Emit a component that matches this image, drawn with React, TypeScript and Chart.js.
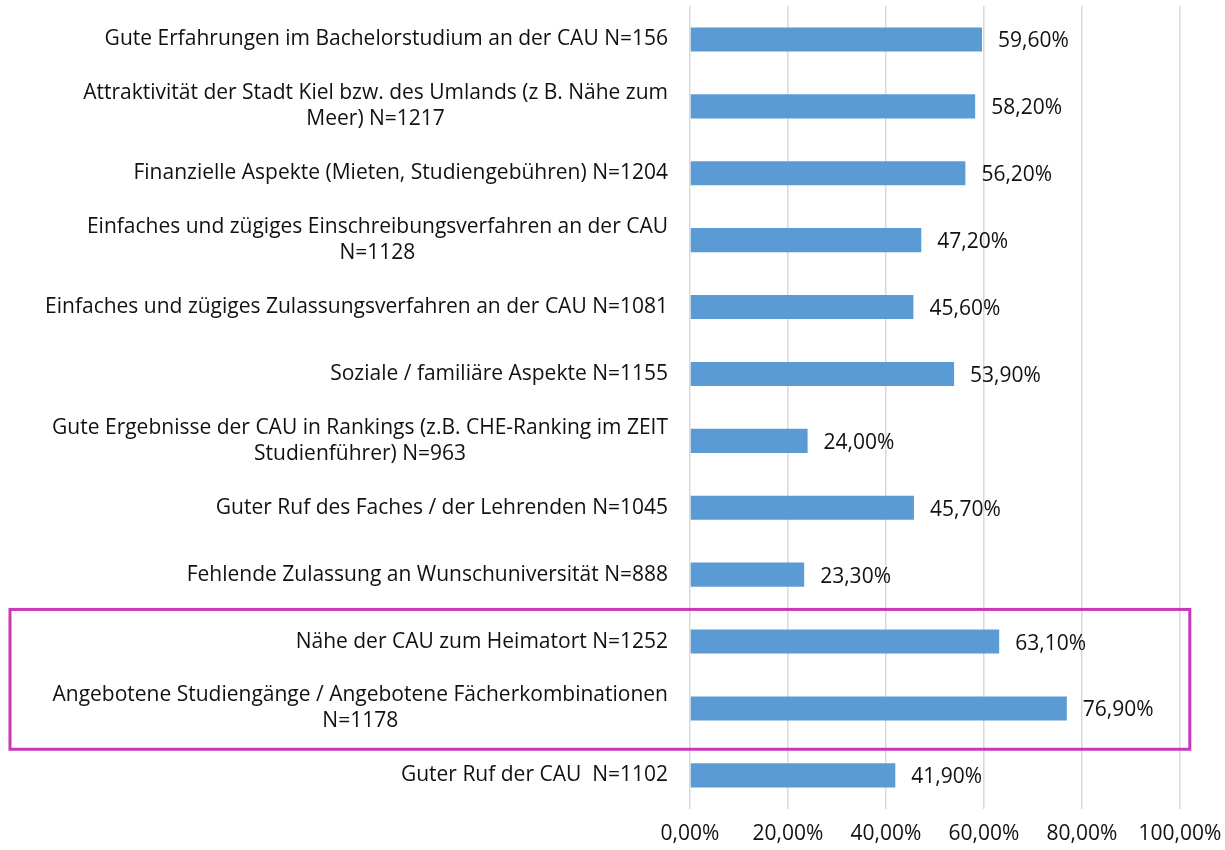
import React, { useEffect, useRef } from "react";
import { Chart, registerables } from "chart.js";

Chart.register(...registerables);

const categories: string[][] = [
  ["Gute Erfahrungen im Bachelorstudium an der CAU N=156"],
  ["Attraktivität der Stadt Kiel bzw. des Umlands (z B. Nähe zum", "Meer) N=1217"],
  ["Finanzielle Aspekte (Mieten, Studiengebühren) N=1204"],
  ["Einfaches und zügiges Einschreibungsverfahren an der CAU", "N=1128"],
  ["Einfaches und zügiges Zulassungsverfahren an der CAU N=1081"],
  ["Soziale / familiäre Aspekte N=1155"],
  ["Gute Ergebnisse der CAU in Rankings (z.B. CHE-Ranking im ZEIT", "Studienführer) N=963"],
  ["Guter Ruf des Faches / der Lehrenden N=1045"],
  ["Fehlende Zulassung an Wunschuniversität N=888"],
  ["Nähe der CAU zum Heimatort N=1252"],
  ["Angebotene Studiengänge / Angebotene Fächerkombinationen", "N=1178"],
  ["Guter Ruf der CAU  N=1102"],
];

const values: number[] = [59.6, 58.2, 56.2, 47.2, 45.6, 53.9, 24.0, 45.7, 23.3, 63.1, 76.9, 41.9];

const highlighted: number[] = [9, 10];

const xTicks: number[] = [0, 20, 40, 60, 80, 100];

const FONT_FAMILY = "'Open Sans', sans-serif";
const FONT_SIZE = 21;
const TEXT_COLOR = "#111111";
const BAR_COLOR = "#5B9BD5";
const BOX_COLOR = "#C838B8";

const fmt = (v: number) => v.toFixed(2).replace(".", ",") + "%";

const labelsPlugin = {
  id: "customLabels",
  afterDraw(chart: any) {
    const ctx = chart.ctx as CanvasRenderingContext2D;
    const y = chart.scales.y;
    const x = chart.scales.x;
    ctx.save();
    ctx.font = `${FONT_SIZE}px ${FONT_FAMILY}`;
    ctx.fillStyle = TEXT_COLOR;
    ctx.textBaseline = "middle";
    const lineH = 26;
    const rightEdge = chart.chartArea.left - 22;
    categories.forEach((lines, i) => {
      const cy = y.getPixelForValue(i);
      const w = Math.max(...lines.map((l) => ctx.measureText(l).width));
      const cx = rightEdge - w / 2;
      ctx.textAlign = "center";
      lines.forEach((l, j) => {
        const ly = cy + (j - (lines.length - 1) / 2) * lineH;
        ctx.fillText(l, cx, ly);
      });
    });
    // data labels
    const meta = chart.getDatasetMeta(0);
    ctx.textAlign = "left";
    meta.data.forEach((bar: any, i: number) => {
      ctx.fillText(fmt(values[i]), bar.x + 16, bar.y + 2);
    });
    // highlight box
    const step = y.getPixelForValue(1) - y.getPixelForValue(0);
    const top = y.getPixelForValue(highlighted[0]) - 0.48 * step;
    const bottom = y.getPixelForValue(highlighted[highlighted.length - 1]) + 0.61 * step;
    const right = x.getPixelForValue(102);
    ctx.strokeStyle = BOX_COLOR;
    ctx.lineWidth = 3;
    ctx.strokeRect(10, top, right - 10, bottom - top);
    ctx.restore();
  },
};

export default function App() {
  const ref = useRef<HTMLCanvasElement | null>(null);
  useEffect(() => {
    document.body.style.margin = "0";
    if (!ref.current) return;
    const chart = new Chart(ref.current, {
      type: "bar",
      data: {
        labels: categories.map((c) => c.join(" ")),
        datasets: [
          {
            data: values,
            backgroundColor: BAR_COLOR,
            borderWidth: 0,
            barPercentage: 0.6,
            categoryPercentage: 0.6,
          },
        ],
      },
      options: {
        indexAxis: "y",
        animation: false,
        responsive: false,
        maintainAspectRatio: false,
        layout: { padding: { left: 690, right: 45, top: 6, bottom: -10 } },
        plugins: {
          legend: { display: false },
          tooltip: { enabled: false },
        },
        scales: {
          x: {
            min: 0,
            max: 100,
            afterBuildTicks: (scale: any) => {
              scale.ticks = xTicks.map((v) => ({ value: v }));
            },
            afterFit: (scale: any) => {
              scale.paddingLeft = 0;
              scale.paddingRight = 0;
            },
            grid: { color: "#D9D9D9", lineWidth: 1.5, drawTicks: false },
            border: { display: false },
            ticks: {
              padding: 13,
              color: TEXT_COLOR,
              font: { family: FONT_FAMILY, size: FONT_SIZE },
              callback: (v: any) => fmt(Number(v)),
              maxRotation: 0,
            },
          },
          y: {
            display: false,
          },
        },
      },
      plugins: [labelsPlugin],
    });
    return () => chart.destroy();
  }, []);
  return (
    <div style={{ width: 1225, height: 850, background: "#fff" }}>
      <canvas ref={ref} width={1225} height={850} />
    </div>
  );
}
